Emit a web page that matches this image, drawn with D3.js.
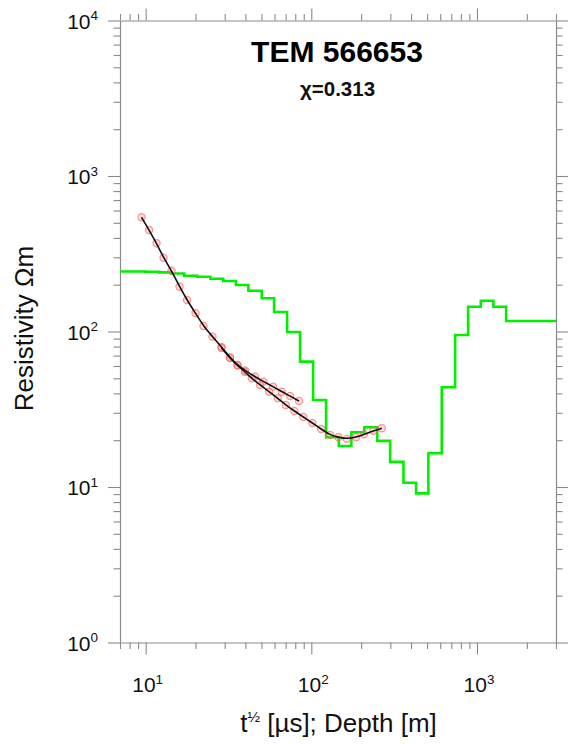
<!DOCTYPE html>
<html>
<head>
<meta charset="utf-8">
<script src="https://cdn.jsdelivr.net/npm/d3@7"></script>
<style>
html,body{margin:0;padding:0;background:#fff;}
svg{display:block;font-family:"Liberation Sans",Arial,Helvetica,sans-serif;}
</style>
</head>
<body>
<svg id="chart" width="568" height="744"></svg>
<script>
// ---- data ----
const titleText = "TEM 566653";
const chiText = "\u03c7=0.313";
const xDomain = [7, 3000];
const yDomain = [1, 10000];
const xMajorTicks = [10, 100, 1000];
const xMajorExp = ["1", "2", "3"];
const yMajorTicks = [1, 10, 100, 1000, 10000];
const yMajorExp = ["0", "1", "2", "3", "4"];

// layer model: interface depths (m) and layer resistivities (ohm m)
const modelInterfaces = [8.4, 10.0, 12.0, 14.3, 17.1, 20.5, 24.6, 29.4, 35.1, 41.7, 50.2, 59.6, 71.4, 85.5, 102.5, 122.8, 146.5, 174.5, 209, 250, 299, 360, 429, 509, 613, 738, 884, 1055, 1257, 1500];
const modelRho = [243, 243, 242, 240, 236, 228.5, 225, 218.5, 211, 199, 183, 163.5, 133.5, 99.3, 64, 36.3, 20.9, 18.35, 22.5, 24.2, 19.8, 14.5, 10.65, 9.1, 16.5, 43.8, 95, 144.4, 157.8, 144.4, 116.8];

// low moment sounding (sqrt time, apparent resistivity)
const lmTime = [9.44, 10.48, 11.63, 12.82, 14.32, 16.01, 17.77, 20.0, 22.36, 25.33, 28.71, 32.31, 35.85, 39.8, 45.74, 51.47, 58.75, 66.3, 74.4, 84.3];
const lmRho = [542.7, 449.5, 369.2, 298.3, 246, 194.2, 159.4, 130.9, 108.5, 92.6, 79.5, 68.0, 60.9, 56.1, 51.2, 47.6, 44.2, 41.0, 38.5, 35.7];
// high moment sounding
const hmTime = [28.7, 32.3, 35.85, 39.8, 43.7, 49.0, 55.6, 62.7, 70.1, 79.0, 89.5, 101.5, 114.5, 129.8, 145.7, 163.8, 186.3, 208.2, 237, 266.4];
const hmRho = [78.3, 67.5, 60.4, 54.9, 50.0, 45.3, 41.0, 37.2, 33.7, 30.8, 28.2, 25.8, 23.6, 21.6, 20.9, 20.4, 20.9, 21.8, 23.0, 23.85];

// ---- layout ----
const L = 120, R = 556, T = 20.5, B = 642.5;
const axisColor = "#8a8a8a";
const svg = d3.select("#chart");
const x = d3.scaleLog().domain(xDomain).range([L, R]);
const y = d3.scaleLog().domain(yDomain).range([B, T]);

svg.append("defs").append("clipPath").attr("id", "clip")
  .append("rect").attr("x", L).attr("y", T).attr("width", R - L).attr("height", B - T);

// ---- axes ----
const xt = x.ticks().filter(v => v >= xDomain[0] && v <= xDomain[1]);
const yt = y.ticks().filter(v => v >= yDomain[0] && v <= yDomain[1]);
const isMajor = v => Math.abs(Math.log10(v) - Math.round(Math.log10(v))) < 1e-9;

function styleAxis(g, sign, horiz) {
  g.select(".domain").attr("stroke", axisColor).attr("stroke-width", 1.2);
  g.selectAll(".tick line").attr("stroke", axisColor).attr("stroke-width", 1.1)
    .each(function(d) {
      const len = isMajor(d) ? 12 : 6.5;
      d3.select(this).attr(horiz ? "y2" : "x2", sign * len);
    });
  g.selectAll(".tick text").remove();
}
svg.append("g").attr("transform", `translate(0,${B})`)
  .call(d3.axisBottom(x).tickValues(xt).tickFormat("").tickSizeOuter(0))
  .call(g => styleAxis(g, 1, true));
svg.append("g").attr("transform", `translate(0,${T})`)
  .call(d3.axisTop(x).tickValues(xt).tickFormat("").tickSizeOuter(0))
  .call(g => styleAxis(g, -1, true));
svg.append("g").attr("transform", `translate(${L},0)`)
  .call(d3.axisLeft(y).tickValues(yt).tickFormat("").tickSizeOuter(0))
  .call(g => styleAxis(g, -1, false));
svg.append("g").attr("transform", `translate(${R},0)`)
  .call(d3.axisRight(y).tickValues(yt).tickFormat("").tickSizeOuter(0))
  .call(g => styleAxis(g, 1, false));

// tick labels with superscripts
xMajorTicks.forEach((v, i) => {
  const t = svg.append("text").attr("x", x(v) + 2).attr("y", 692)
    .attr("text-anchor", "middle").attr("font-size", 21).attr("fill", "#111");
  t.append("tspan").text("10");
  t.append("tspan").attr("font-size", 13.5).attr("dy", -8.5).text(xMajorExp[i]);
});
yMajorTicks.forEach((v, i) => {
  const t = svg.append("text").attr("x", 98).attr("y", y(v) + 8)
    .attr("text-anchor", "end").attr("font-size", 21).attr("fill", "#111");
  t.append("tspan").text("10");
  t.append("tspan").attr("font-size", 13.5).attr("dy", -8.5).text(yMajorExp[i]);
});

// axis titles
const xl = svg.append("text").attr("x", 338.5).attr("y", 731.5)
  .attr("text-anchor", "middle").attr("font-size", 26).attr("fill", "#111");
xl.append("tspan").text("t");
xl.append("tspan").attr("font-size", 15).attr("dy", -10).text("\u00bd");
xl.append("tspan").attr("dy", 10).text(" [\u00b5s]; Depth [m]");

svg.append("text").attr("transform", "translate(33,328.5) rotate(-90)")
  .attr("text-anchor", "middle").attr("font-size", 26).attr("fill", "#111")
  .text("Resistivity \u03a9m");

// title
svg.append("text").attr("x", 337).attr("y", 61.5).attr("text-anchor", "middle")
  .attr("font-size", 30).attr("font-weight", "bold").attr("fill", "#000").text(titleText);
svg.append("text").attr("x", 337.5).attr("y", 96).attr("text-anchor", "middle")
  .attr("font-size", 20.5).attr("font-weight", "bold").attr("fill", "#111").text(chiText);

// ---- plot ----
const plot = svg.append("g").attr("clip-path", "url(#clip)");

const stepPts = [[xDomain[0], modelRho[0]]]
  .concat(modelInterfaces.map((d, i) => [d, modelRho[i + 1]]))
  .concat([[xDomain[1], modelRho[modelRho.length - 1]]]);
plot.append("path").datum(stepPts)
  .attr("d", d3.line().x(d => x(d[0])).y(d => y(d[1])).curve(d3.curveStepAfter))
  .attr("fill", "none").attr("stroke", "#00f000").attr("stroke-width", 2.6);

const sets = [
  lmTime.map((t, i) => [t, lmRho[i]]),
  hmTime.map((t, i) => [t, hmRho[i]])
];
sets.forEach(s => {
  plot.selectAll(null).data(s).enter().append("circle")
    .attr("cx", d => x(d[0])).attr("cy", d => y(d[1])).attr("r", 3.6)
    .attr("fill", "rgba(255,110,110,0.25)").attr("stroke", "rgba(245,100,100,0.65)")
    .attr("stroke-width", 1.2);
});
sets.forEach(s => {
  plot.append("path").datum(s)
    .attr("d", d3.line().x(d => x(d[0])).y(d => y(d[1])).curve(d3.curveBasis))
    .attr("fill", "none").attr("stroke", "#111").attr("stroke-width", 1.6);
});
</script>
</body>
</html>
